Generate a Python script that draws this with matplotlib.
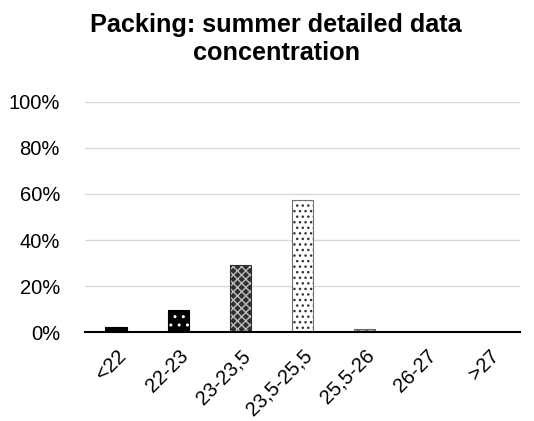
import matplotlib
matplotlib.use("Agg")
import matplotlib.pyplot as plt
from matplotlib.ticker import PercentFormatter

plt.rcParams['font.family'] = ['Liberation Sans', 'DejaVu Sans']
plt.rcParams['hatch.linewidth'] = 1.0

categories = ["<22", "22-23", "23-23,5", "23,5-25,5", "25,5-26", "26-27", ">27"]
values = [0.022, 0.098, 0.29, 0.574, 0.015, 0.0, 0.0]
yticks = [0, 0.2, 0.4, 0.6, 0.8, 1.0]

facecolors = ["black", "black", "#303030", "white", "#6a6a6a", "white", "white"]
hatchcolors = ["black", "white", "#bdbdbd", "#333333", "#c8c8c8", "black", "black"]
hatches = [None, "..", "xxxx", "...", "xxxx", None, None]
edgecolors = ["black", "black", "#303030", "#707070", "#6a6a6a", "black", "black"]

fig = plt.figure(figsize=(5.34, 4.21), dpi=100)
ax = fig.add_axes([0.159, 0.211, 0.815, 0.547])

x = range(len(categories))
for i, v in enumerate(values):
    if v <= 0:
        continue
    ax.bar(i, v, width=0.34, color=facecolors[i], edgecolor=hatchcolors[i],
           hatch=hatches[i], linewidth=0, zorder=3)
    ax.bar(i, v, width=0.34, fill=False, edgecolor=edgecolors[i], linewidth=0.8, zorder=4)

ax.set_ylim(0, 1.0)
ax.set_xlim(-0.5, len(categories) - 0.5)
ax.set_yticks(yticks)
ax.yaxis.set_major_formatter(PercentFormatter(1.0, decimals=0))
ax.set_xticks(list(x))
ax.set_xticklabels(categories, rotation=45, ha="right", rotation_mode="anchor")
ax.tick_params(axis="both", length=0, labelsize=14.5)
ax.tick_params(axis="x", pad=10)
ax.tick_params(axis="y", pad=18)
ax.grid(axis="y", color="#d9d9d9", linewidth=1.0, zorder=0)
for s in ["top", "right", "left"]:
    ax.spines[s].set_visible(False)
ax.spines["bottom"].set_color("black")
ax.spines["bottom"].set_linewidth(1.5)
ax.spines["bottom"].set_zorder(5)

fig.suptitle("Packing: summer detailed data\nconcentration", fontsize=18.2,
             fontweight="bold", x=0.517, y=0.968, linespacing=1.2)

fig.savefig("out.png", dpi=100)
